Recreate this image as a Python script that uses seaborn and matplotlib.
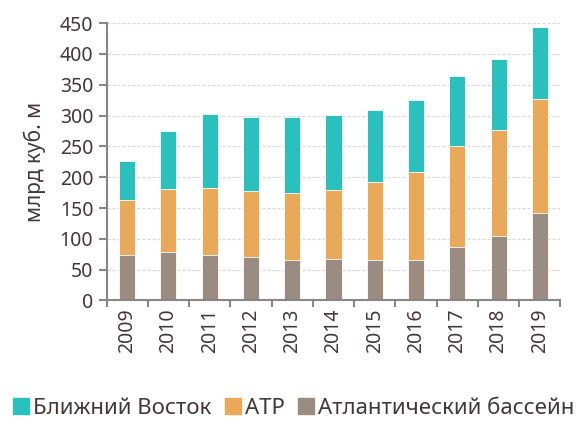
import numpy as np
import pandas as pd
import matplotlib
matplotlib.use("Agg")
import matplotlib.pyplot as plt
import seaborn as sns
from matplotlib.lines import Line2D

years = ["2009", "2010", "2011", "2012", "2013", "2014", "2015", "2016", "2017", "2018", "2019"]
atlantic = [74, 78, 73, 71, 65, 67, 65, 66, 87, 104, 142]
apr = [89, 103, 110, 107, 110, 113, 127, 143, 163, 173, 185]
middle_east = [64, 94, 120, 120, 123, 121, 117, 117, 114, 115, 116]

labels = ["Ближний Восток", "АТР", "Атлантический бассейн"]
colors = ["#2bbfbd", "#e8a95a", "#9a8c80"]
text_c = "#45363a"

sns.set_style("white")
plt.rcParams["font.family"] = ["Noto Sans", "DejaVu Sans"]

df = pd.DataFrame({"year": years, "atl": atlantic, "apr": apr, "me": middle_east})
df["s1"] = df["atl"]
df["s2"] = df["atl"] + df["apr"]
df["s3"] = df["s2"] + df["me"]

fig, ax = plt.subplots(figsize=(5.79, 4.28), dpi=100)
fig.subplots_adjust(left=0.184, right=0.968, top=0.946, bottom=0.298)

# stacked look: draw cumulative totals from tallest to shortest
for col, c in zip(["s3", "s2", "s1"], colors):
    sns.barplot(data=df, x="year", y=col, color=c, width=0.39, ax=ax,
                saturation=1, edgecolor="white", linewidth=0.6)

ax.set_ylim(0, 450)
ax.set_yticks(range(0, 451, 50))
ax.set_xlim(-0.5, len(years) - 0.5)
ax.set_xlabel("")
ax.set_ylabel("млрд куб. м", fontsize=15, color=text_c, labelpad=10)
ax.yaxis.grid(True, linestyle=(0, (2.5, 1.5)), color="#d9d9d9", linewidth=0.9)
ax.set_axisbelow(True)

for s in ["top", "right"]:
    ax.spines[s].set_visible(False)
for s in ["left", "bottom"]:
    ax.spines[s].set_color("#8c8585")
    ax.spines[s].set_linewidth(1.5)

ax.tick_params(axis="y", labelsize=14, colors=text_c, length=6, width=1.5, color="#8c8585", left=True)
ax.set_xticks(range(len(years)))
ax.set_xticklabels(years, rotation=90)
ax.tick_params(axis="x", labelsize=14, colors=text_c, length=0, pad=6)
# tick marks between categories
ax.set_xticks(np.arange(-0.5, len(years), 1), minor=True)
ax.tick_params(axis="x", which="minor", length=5, width=1.5, color="#8c8585", bottom=True)

handles = [Line2D([], [], marker="s", linestyle="", markersize=11, color=c) for c in colors]
fig.legend(handles, labels, loc="lower center", bbox_to_anchor=(0.505, -0.025), ncol=3,
           frameon=False, fontsize=16, handletextpad=0.05, columnspacing=0.45,
           handlelength=1.0, labelcolor=text_c)

fig.savefig("out.png", dpi=100)
